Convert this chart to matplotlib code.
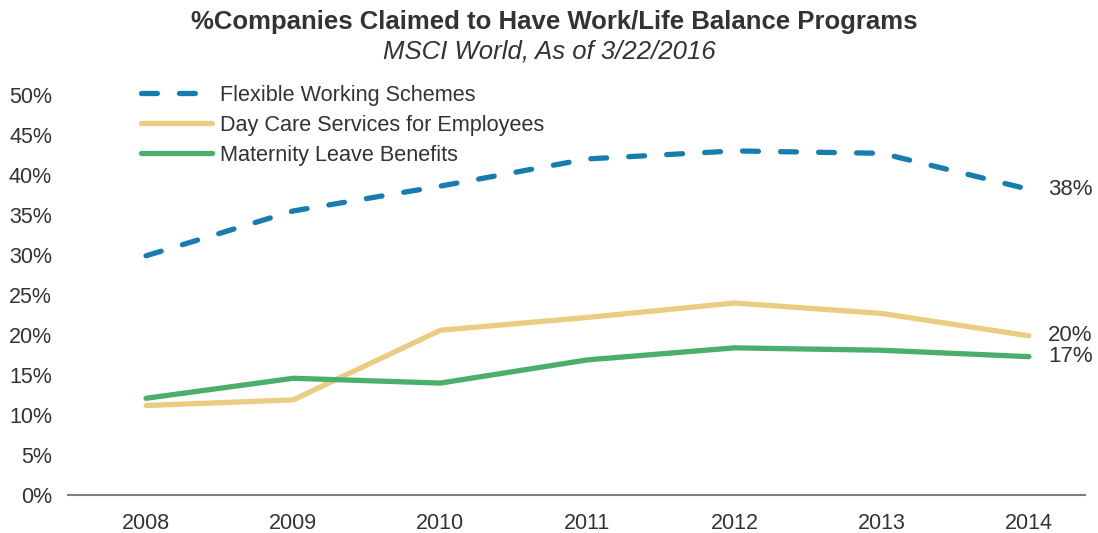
import matplotlib.pyplot as plt
from matplotlib.ticker import FuncFormatter

plt.rcParams['font.family'] = ['Liberation Sans', 'DejaVu Sans']

years = ['2008', '2009', '2010', '2011', '2012', '2013', '2014']
flexible = [29.9, 35.5, 38.6, 42.0, 43.0, 42.7, 38.2]
day_care = [11.2, 11.9, 20.6, 22.2, 24.0, 22.7, 19.9]
maternity = [12.1, 14.6, 14.0, 16.9, 18.4, 18.1, 17.3]
end_labels = ['38%', '20%', '17%']

txt = '#333333'
fig = plt.figure(figsize=(10.98, 5.33), dpi=100)
ax = fig.add_axes([0.062, 0.071, 0.926, 0.751])

x = range(len(years))
ax.plot(x, flexible, color='#177DB1', lw=3.8, ls=(0, (3.0, 4.2)),
        dash_capstyle='round', label='Flexible Working Schemes')
ax.plot(x, day_care, color='#EACD82', lw=3.8, solid_capstyle='round',
        label='Day Care Services for Employees')
ax.plot(x, maternity, color='#4BAE6A', lw=3.8, solid_capstyle='round',
        label='Maternity Leave Benefits')

# value labels at the right end of each series
for series, lab in zip([flexible, day_care, maternity], end_labels):
    ax.annotate(lab, (x[-1], series[-1]), xytext=(14, 0), textcoords='offset points',
                va='center', ha='left', fontsize=16, color=txt)

ax.set_ylim(0, 50)
ax.set_xlim(-0.53, 6.38)
ax.set_yticks(range(0, 51, 5))
ax.yaxis.set_major_formatter(FuncFormatter(lambda v, p: f'{v:.0f}%'))
ax.set_xticks(list(x))
ax.set_xticklabels(years)
ax.tick_params(length=0, labelsize=15.5, colors=txt)
ax.tick_params(axis='x', pad=13)
ax.tick_params(axis='y', pad=11.5)
for s in ['top', 'right', 'left']:
    ax.spines[s].set_visible(False)
ax.spines['bottom'].set_color('#808080')
ax.spines['bottom'].set_linewidth(1.5)

leg = ax.legend(loc='upper left', bbox_to_anchor=(0.063, 1.047), frameon=False,
                fontsize=15.6, handlelength=3.3, handletextpad=0.37, labelspacing=0.42,
                borderaxespad=0)
for t in leg.get_texts():
    t.set_color(txt)

fig.text(0.505, 0.958, '%Companies Claimed to Have Work/Life Balance Programs',
         ha='center', va='center', fontsize=18.5, fontweight='bold', color=txt)
fig.text(0.50, 0.904, 'MSCI World, As of 3/22/2016', ha='center', va='center',
         fontsize=18.5, style='italic', color=txt)

fig.savefig('out.png', dpi=100)
